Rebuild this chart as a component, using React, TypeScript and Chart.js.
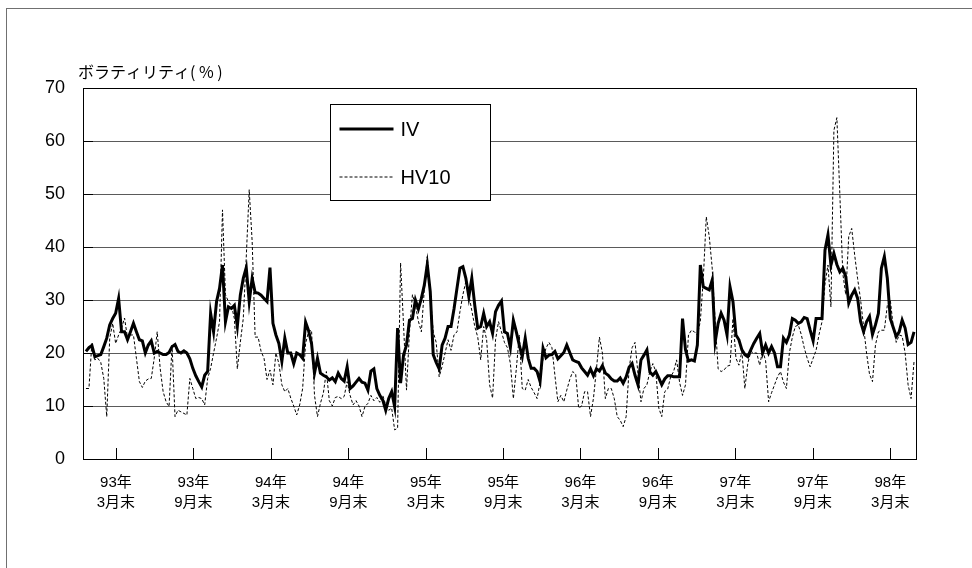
import React, { useEffect, useRef } from "react";
import { Chart, registerables } from "chart.js";

Chart.register(...registerables);

// weekly values, first value = week 1 (mid-January 1993)
const FIRST_WEEK = 1;

const IV: number[] = [
  20.3, 21, 21.4, 19.3, 19.5, 19.7, 21.2, 22.8, 25.3, 26.5,
  27.5, 30.3, 24, 24, 22.5, 24, 25.6, 24, 22.5, 22.3,
  20, 21.5, 22.3, 20, 20.3, 20, 19.7, 19.7, 20.1, 21.2,
  21.6, 20.3, 20, 20.4, 20, 18.9, 17.1, 15.7, 14.6, 13.6,
  15.8, 16.5, 27.5, 24, 29.7, 32.2, 36.6, 25.9, 28.7, 28.4,
  29, 25, 30.9, 34.1, 36.1, 29.7, 34.1, 31.4, 31.3, 30.9,
  30.3, 29.7, 36.1, 25.6, 23.4, 21.8, 18.4, 22.8, 20, 20,
  18, 20, 19.7, 19, 25.8, 24.2, 21.8, 16.2, 19, 16.2,
  15.8, 15.5, 14.9, 15.3, 14.6, 16.2, 15.2, 14.7, 17.4, 13.3,
  13.8, 14.5, 15.2, 14.5, 14.3, 13, 16.6, 17, 13.3, 12,
  11.1, 9.2, 11.4, 12.7, 9.9, 24.7, 14.3, 19.6, 21.5, 26.2,
  26.5, 30, 28.3, 30.3, 32.8, 36.7, 31.6, 19.7, 18.2, 17,
  21.5, 22.8, 25, 25, 28.3, 32.2, 36, 36.3, 34.1, 30.6,
  34.1, 29, 24.7, 25, 27.5, 25, 25.9, 23.7, 27.8, 29,
  29.8, 24, 23.7, 21, 26.2, 24, 21.5, 19.3, 22.8, 19,
  17.1, 17.1, 16.5, 14.6, 20.9, 19.1, 19.6, 19.7, 20.3, 18.9,
  19.5, 20.1, 21.5, 20.1, 18.7, 18.4, 18.2, 17.2, 16.5, 15.8,
  17, 15.7, 17, 16.6, 17.6, 16.2, 15.8, 15.1, 14.7, 14.7,
  15.3, 14.3, 15.5, 17.3, 18, 15.8, 14, 18.7, 19.6, 20.6,
  16.4, 15.8, 16.5, 15.3, 14, 15.1, 15.7, 15.7, 15.5, 15.5,
  15.5, 26.5, 20.6, 18.5, 18.7, 18.5, 21.5, 36.6, 32.5, 32.2,
  31.9, 33.8, 22.1, 25.6, 27.5, 26.2, 23.4, 32.5, 29.7, 23.4,
  22.5, 20.6, 19.7, 19.3, 20.6, 21.8, 22.8, 23.7, 20, 21.5,
  20, 21.2, 20, 17.4, 17.4, 22.8, 22, 23.4, 26.5, 26.2,
  25.6, 25.9, 26.7, 26.5, 24.3, 22.3, 26.5, 26.5, 26.5, 39.4,
  42.3, 36.6, 38.8, 36.7, 35.3, 36, 34.4, 29.4, 30.9, 31.9,
  30.3, 25.9, 24, 25.9, 26.9, 23.5, 25.3, 27.5, 36, 38.2,
  34.1, 26.5, 24.8, 23.1, 24, 26.2, 24.7, 21.6, 22, 24,
];

const HV10: number[] = [
  13.3, 13.3, 22, 18.7, 19, 18.2, 15.2, 8, 22.8, 25.6,
  21.8, 23.4, 24.7, 26.6, 22.8, 23.4, 23.4, 19, 14.6, 13.5,
  14.7, 15.1, 15.2, 19, 24, 17.1, 12.7, 10.8, 9.9, 21.5,
  8, 9.2, 8.9, 8.6, 8.3, 15.2, 13.3, 11.4, 11.6, 11.4,
  10.2, 15.2, 17.1, 20, 22.8, 25.9, 47, 31, 29.7, 29,
  26.5, 17, 22, 26.5, 38, 50.8, 41, 23, 23, 20.3,
  19, 15, 16.8, 14, 20, 18, 14, 12.7, 13.3, 11.5,
  10, 8.3, 10.2, 13.3, 21.8, 24, 24.3, 12, 8, 10.5,
  12.5, 16.5, 11, 10, 11.6, 11.8, 11.4, 11.8, 14.6, 12,
  10.2, 11, 10, 8, 9.9, 10.5, 12, 11, 11.6, 10.7,
  12, 10.2, 9.2, 9.6, 5.5, 5.8, 37, 25.3, 13, 24,
  31, 29, 26, 24, 32, 38.2, 31, 24, 22, 15.5,
  17.5, 20, 22.5, 20.5, 23.4, 24, 27.8, 31, 33.5, 31,
  28, 25, 23, 18.7, 25, 22.5, 14, 11.5, 22.5, 25.9,
  24, 22, 21, 18, 11.4, 17, 23.4, 13.3, 13, 15,
  13.5, 12.5, 11.4, 14.5, 19, 20.9, 22, 21, 15.8, 10.8,
  12, 10.8, 13, 15, 16.5, 16, 9.6, 10, 12.7, 12.7,
  8, 11.5, 17, 23, 20, 11.4, 13.3, 13.3, 11.4, 8,
  7.3, 6.1, 8, 17, 21, 22, 16, 10.8, 13.3, 14,
  16.5, 18, 16.5, 9.6, 8, 12.7, 13.2, 15.5, 16.5, 18.7,
  14.5, 12, 14, 23.4, 24.3, 24, 23.4, 26, 34, 45.7,
  42, 36, 26, 17, 16.5, 16.8, 17.5, 17.7, 26.5, 19,
  17.7, 20.3, 13.3, 18, 20.3, 20, 20, 17.7, 20.5, 18.5,
  10.8, 12.5, 14, 15.5, 16.5, 14.5, 13.3, 20, 23, 25,
  25.3, 23.5, 21, 19, 17.4, 19, 20.5, 23.5, 25.9, 33,
  36.6, 28.7, 62, 64.4, 50, 35, 31, 42, 43.5, 38.5,
  34, 30, 25, 20, 16, 14.6, 21.5, 24, 24.3, 24.3,
  29, 30, 25, 22, 23.4, 23.2, 20, 14, 11.4, 18.4,
];

const X_MIN = 0;
const X_MAX = 281;
const TICK_WEEKS = [11.1, 37.2, 63.3, 89.4, 115.5, 141.6, 167.6, 193.7, 219.8, 245.9, 272.0];
const TICK_LABELS = [
  ["93年", "3月末"], ["93年", "9月末"], ["94年", "3月末"], ["94年", "9月末"],
  ["95年", "3月末"], ["95年", "9月末"], ["96年", "3月末"], ["96年", "9月末"],
  ["97年", "3月末"], ["97年", "9月末"], ["98年", "3月末"],
];
const Y_TICKS_STEP = 10;
const Y_MIN = 0;
const Y_MAX = 70;
const SERIES_NAMES = ["IV", "HV10"];
const Y_TITLE = "ボラティリティ( % )";

const LATIN = "'Liberation Sans', Arial, sans-serif";
const CJK = "'Liberation Sans', 'Noto Sans CJK JP', sans-serif";

export default function App() {
  const ref = useRef<HTMLCanvasElement>(null);

  useEffect(() => {
    const canvas = ref.current;
    if (!canvas) return;

    const decor = {
      id: "decor",
      afterDatasetsDraw(chart: any) {
        const { ctx, chartArea: a, scales } = chart;
        ctx.save();
        // plot frame
        ctx.strokeStyle = "#000";
        ctx.lineWidth = 1;
        ctx.strokeRect(Math.round(a.left) + 0.5, Math.round(a.top) + 0.5, Math.round(a.right - a.left) - 1, Math.round(a.bottom - a.top));
        // inner ticks on y axis
        ctx.beginPath();
        for (let v = Y_MIN + Y_TICKS_STEP; v < Y_MAX; v += Y_TICKS_STEP) {
          const y = Math.round(scales.y.getPixelForValue(v)) + 0.5;
          ctx.moveTo(a.left, y);
          ctx.lineTo(a.left + 10, y);
        }
        // inner ticks on x axis
        for (const w of TICK_WEEKS) {
          const x = Math.round(scales.x.getPixelForValue(w)) + 0.5;
          ctx.moveTo(x, a.bottom);
          ctx.lineTo(x, a.bottom - 11);
        }
        ctx.stroke();
        ctx.restore();
      },
      afterDraw(chart: any) {
        const { ctx, chartArea: a } = chart;
        ctx.save();
        // axis title
        ctx.fillStyle = "#000";
        ctx.font = "16px 'Noto Sans CJK JP', sans-serif";
        ctx.textBaseline = "middle";
        ctx.textAlign = "left";
        ctx.fillText(Y_TITLE, a.left - 5, a.top - 16);
        // legend box
        const bx = a.left + 247.5, by = a.top + 16.5, bw = 160, bh = 96;
        ctx.fillStyle = "#fff";
        ctx.fillRect(bx, by, bw, bh);
        ctx.strokeStyle = "#000";
        ctx.lineWidth = 1;
        ctx.strokeRect(bx, by, bw, bh);
        const ds = chart.data.datasets;
        const rows = [by + 24.5, by + 72.5];
        ds.forEach((d: any, i: number) => {
          ctx.beginPath();
          ctx.strokeStyle = d.borderColor;
          ctx.lineWidth = d.borderWidth;
          ctx.setLineDash(d.borderDash || []);
          ctx.moveTo(bx + 9, rows[i]);
          ctx.lineTo(bx + 63, rows[i]);
          ctx.stroke();
          ctx.setLineDash([]);
          ctx.fillStyle = "#000";
          ctx.font = "20px " + LATIN;
          ctx.textBaseline = "middle";
          ctx.fillText(d.label, bx + 70, rows[i] + 1);
        });
        ctx.restore();
      },
    };

    const chart = new Chart(canvas, {
      type: "line",
      data: {
        datasets: [
          {
            label: SERIES_NAMES[0],
            data: IV.map((v, i) => ({ x: FIRST_WEEK + i, y: v })),
            borderColor: "#000",
            borderWidth: 3,
            pointRadius: 0,
            tension: 0,
            fill: false,
          },
          {
            label: SERIES_NAMES[1],
            data: HV10.map((v, i) => ({ x: FIRST_WEEK + i, y: v })),
            borderColor: "#000",
            borderWidth: 1,
            borderDash: [3, 2],
            pointRadius: 0,
            tension: 0,
            fill: false,
          },
        ],
      },
      options: {
        animation: false,
        responsive: false,
        events: [],
        layout: { padding: { left: 0, top: 88, right: 55, bottom: 0 } },
        plugins: { legend: { display: false }, tooltip: { enabled: false }, title: { display: false } },
        scales: {
          x: {
            type: "linear",
            min: X_MIN,
            max: X_MAX,
            afterBuildTicks: (s: any) => {
              s.ticks = TICK_WEEKS.map((v) => ({ value: v }));
            },
            afterFit: (s: any) => {
              s.height = 109;
            },
            ticks: {
              autoSkip: false,
              maxRotation: 0,
              padding: 14,
              color: "#000",
              font: { family: CJK, size: 15, lineHeight: 1.333 },
              callback: (_v: any, i: number) => TICK_LABELS[i],
            },
            grid: { display: false, drawTicks: false },
            border: { display: false },
          },
          y: {
            min: Y_MIN,
            max: Y_MAX,
            afterFit: (s: any) => {
              s.width = 83;
            },
            ticks: {
              stepSize: Y_TICKS_STEP,
              padding: 18,
              color: "#000",
              font: { family: LATIN, size: 18 },
            },
            grid: {
              drawTicks: false,
              lineWidth: 1,
              color: (c: any) => (c.tick && (c.tick.value === Y_MIN || c.tick.value === Y_MAX) ? "rgba(0,0,0,0)" : "#5a5a5a"),
            },
            border: { display: false },
          },
        },
      },
      plugins: [decor],
    });

    return () => chart.destroy();
  }, []);

  return (
    <div style={{ position: "fixed", left: 0, top: 0, width: 972, height: 568, background: "#fff", overflow: "hidden" }}>
      <div
        style={{
          position: "absolute",
          left: 6,
          top: 8,
          width: 1000,
          height: 600,
          borderLeft: "1px solid #707070",
          borderTop: "1px solid #707070",
        }}
      />
      <canvas ref={ref} width={972} height={568} style={{ position: "absolute", left: 0, top: 0, width: 972, height: 568 }} />
    </div>
  );
}
